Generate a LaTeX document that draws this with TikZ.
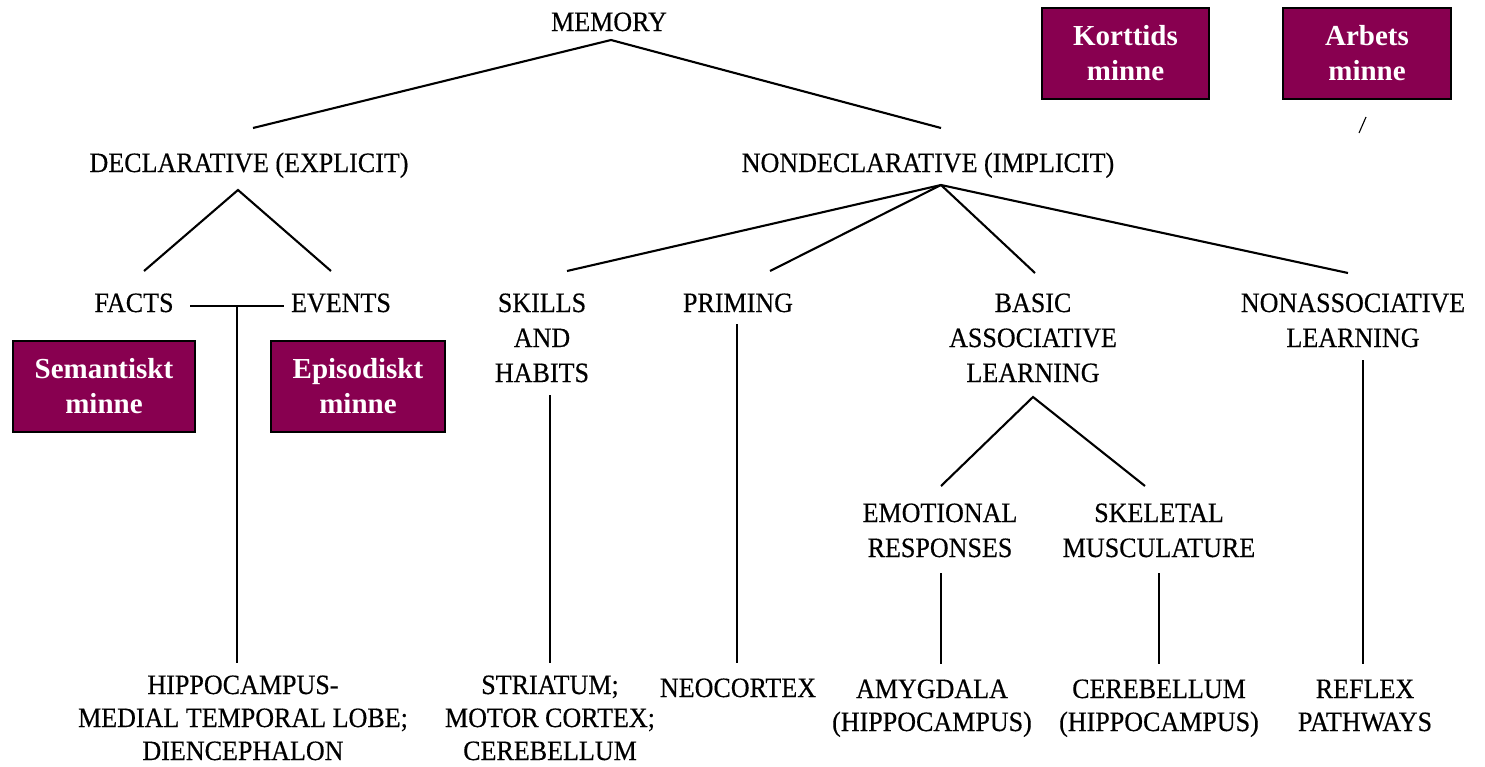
\documentclass[tikz,border=0pt]{standalone}
\usepackage{fontspec}
\setmainfont{Liberation Serif}[FakeStretch=0.93,FakeBold=0.4]
\newfontfamily\boxfont{Liberation Serif}
\definecolor{boxpurple}{RGB}{136,0,80}
\begin{document}
\begin{tikzpicture}[x=1pt,y=-1pt,
  lbl/.style={anchor=base,align=center,inner sep=0pt,font=\fontsize{28}{35}\selectfont},
  lblb/.style={lbl,font=\fontsize{28}{33}\selectfont},
  mbox/.style={draw=black,line width=1.4pt,fill=boxpurple,text=white,align=center,inner sep=0pt,
    font=\boxfont\bfseries\fontsize{29}{35}\selectfont},
  conn/.style={line width=2.1pt},
  vconn/.style={line width=1.8pt}]
\useasboundingbox (0,0) rectangle (1485,766);
% labels
\node[lbl] (memory) at (609,31) {MEMORY};
\node[lbl] (decl) at (249,172) {DECLARATIVE (EXPLICIT)};
\node[lbl] (nondecl) at (928,172) {NONDECLARATIVE (IMPLICIT)};
\node[lbl] (facts) at (134,312) {FACTS};
\node[lbl] (events) at (341,312) {EVENTS};
\node[lbl] (skills) at (542,382) {SKILLS\\AND\\HABITS};
\node[lbl] (priming) at (738,312) {PRIMING};
\node[lbl] (basic) at (1033,382) {BASIC\\ASSOCIATIVE\\LEARNING};
\node[lbl] (nonassoc) at (1353,347) {NONASSOCIATIVE\\LEARNING};
\node[lbl] (emot) at (940,557) {EMOTIONAL\\RESPONSES};
\node[lbl] (skel) at (1159,557) {SKELETAL\\MUSCULATURE};
\node[lblb] (hippo) at (243,760) {HIPPOCAMPUS-\\MEDIAL TEMPORAL LOBE;\\DIENCEPHALON};
\node[lblb] (striatum) at (550,760) {STRIATUM;\\MOTOR CORTEX;\\CEREBELLUM};
\node[lblb] (neocortex) at (738,697) {NEOCORTEX};
\node[lblb] (amyg) at (932,731) {AMYGDALA\\(HIPPOCAMPUS)};
\node[lblb] (cereb) at (1159,731) {CEREBELLUM\\(HIPPOCAMPUS)};
\node[lblb] (reflex) at (1365,731) {REFLEX\\PATHWAYS};
% boxes
\node[mbox,minimum width=167,minimum height=91] (kort) at (1125.5,53.5) {Korttids\\minne};
\node[mbox,minimum width=168,minimum height=91] (arb) at (1367,53.5) {Arbets\\minne};
\node[mbox,minimum width=182,minimum height=91] (sem) at (104,386.5) {Semantiskt\\minne};
\node[mbox,minimum width=174,minimum height=91] (epi) at (358,386.5) {Episodiskt\\minne};
% connector end points
\coordinate (memA) at (611,40);
\coordinate (declT) at (253,128);
\coordinate (nondeclT) at (941,128);
\coordinate (declA) at (238,190);
\coordinate (factsT) at (144,271);
\coordinate (eventsT) at (331,271);
\coordinate (feL) at (190,306);
\coordinate (feR) at (284,306);
\coordinate (feM) at (237,306);
\coordinate (hippoT) at (237,663);
\coordinate (nondeclA) at (941,185);
\coordinate (skillsT) at (567,271);
\coordinate (primingT) at (770,271);
\coordinate (basicT) at (1035,273);
\coordinate (nonassocT) at (1348,273);
\coordinate (skillsB) at (550,395);
\coordinate (striatumT) at (550,663);
\coordinate (primingB) at (737,324);
\coordinate (neoT) at (737,663);
\coordinate (basicA) at (1033,397);
\coordinate (emotT) at (941,486);
\coordinate (skelT) at (1145,486);
\coordinate (emotB) at (941,573);
\coordinate (amygT) at (941,664);
\coordinate (skelB) at (1159,573);
\coordinate (cerebT) at (1159,664);
\coordinate (nonassocB) at (1363,360);
\coordinate (reflexT) at (1363,664);
\coordinate (slashA) at (1359,133);
\coordinate (slashB) at (1366,117);
% connectors
\draw[conn] (declT) -- (memA) -- (nondeclT);
\draw[conn] (factsT) -- (declA) -- (eventsT);
\draw[vconn] (feL) -- (feR);
\draw[vconn] (feM) -- (hippoT);
\draw[conn] (nondeclA) -- (skillsT);
\draw[conn] (nondeclA) -- (primingT);
\draw[conn] (nondeclA) -- (basicT);
\draw[conn] (nondeclA) -- (nonassocT);
\draw[vconn] (skillsB) -- (striatumT);
\draw[vconn] (primingB) -- (neoT);
\draw[conn] (emotT) -- (basicA) -- (skelT);
\draw[vconn] (emotB) -- (amygT);
\draw[vconn] (skelB) -- (cerebT);
\draw[vconn] (nonassocB) -- (reflexT);
\draw[line width=1.1pt] (slashA) -- (slashB);
\end{tikzpicture}
\end{document}
